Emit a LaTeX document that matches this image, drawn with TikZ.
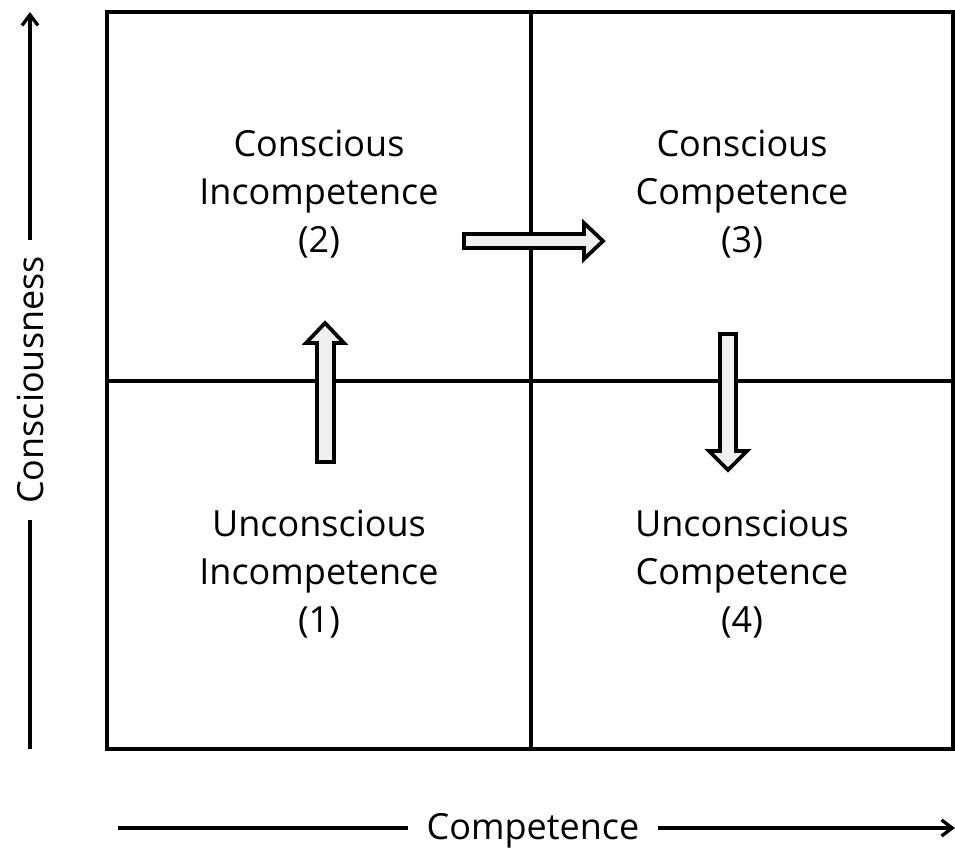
\documentclass[tikz,border=0pt]{standalone}
\usepackage{fontspec}
\setmainfont{Open Sans}
\usetikzlibrary{arrows.meta}
\tikzset{
  quadtext/.style={align=center, font=\fontsize{27}{36}\selectfont},
  axistext/.style={font=\fontsize{27}{30}\selectfont, inner sep=0pt},
  axisline/.style={line width=2.5pt},
  bigarrow/.style={draw, line width=2.8pt, fill=black!6, line join=miter},
}
\begin{document}
\begin{tikzpicture}[x=0.75pt, y=-0.75pt]
    \useasboundingbox (0,0) rectangle (955,850);
    % Grid
    \draw[line width=2.8pt] (107,12) rectangle (953,749);
    \draw[line width=2.8pt] (531,12) -- (531,749);
    \draw[line width=2.8pt] (107,381) -- (953,381);
    % Quadrant labels
    \node[quadtext] (q2) at (319,194) {Conscious\\Incompetence\\(2)};
    \node[quadtext] (q3) at (742,194) {Conscious\\Competence\\(3)};
    \node[quadtext] (q1) at (319,574) {Unconscious\\Incompetence\\(1)};
    \node[quadtext] (q4) at (742,574) {Unconscious\\Competence\\(4)};
    % Transition arrows
    \draw[bigarrow] (317,462) -- (317,343) -- (306,343) -- (325,323) -- (344,343) -- (334,343) -- (334,462) -- cycle;
    \draw[bigarrow] (464,234) -- (584,234) -- (584,223) -- (603,241) -- (584,259) -- (584,248) -- (464,248) -- cycle;
    \draw[bigarrow] (720,334) -- (736,334) -- (736,451) -- (747,451) -- (728,470) -- (709,451) -- (720,451) -- cycle;
    % Axes
    \node[axistext, rotate=90] (ylab) at (30,380) {Consciousness};
    \coordinate (ybot) at (30,749);
    \coordinate (ytop) at (30,12);
    \draw[axisline] (ybot) -- ([yshift=-12pt]ylab.west);
    \draw[axisline, -{Straight Barb[length=8pt, width=12pt]}] ([yshift=12pt]ylab.east) -- (ytop);
    \node[axistext] (xlab) at (533,831) {Competence};
    \coordinate (xleft) at (118,828);
    \coordinate (xright) at (955,828);
    \draw[axisline] (xleft) -- ([xshift=-14pt]xlab.west |- xleft);
    \draw[axisline, -{Straight Barb[length=8pt, width=12pt]}] ([xshift=14pt]xlab.east |- xleft) -- (xright);
\end{tikzpicture}
\end{document}
